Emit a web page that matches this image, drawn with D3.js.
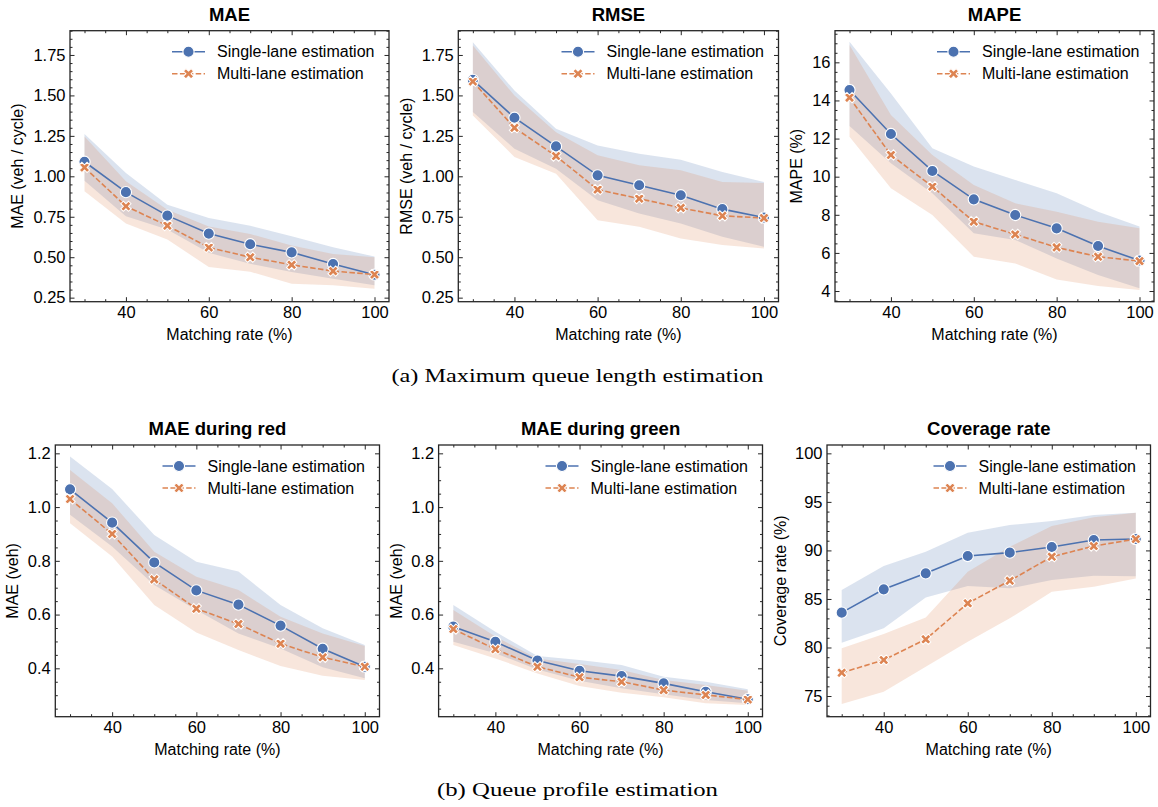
<!DOCTYPE html>
<html>
<head>
<meta charset="utf-8">
<script src="https://cdn.jsdelivr.net/npm/d3@7"></script>
<style>
  body { margin: 0; background: #fff; }
  svg { display: block; }
</style>
</head>
<body>
<svg id="fig" width="1158" height="807"></svg>
<script>
// ---- data ---------------------------------------------------------------
const matchingRate = [30, 40, 50, 60, 70, 80, 90, 100];
const seriesNames = ["Single-lane estimation", "Multi-lane estimation"];

// (a) maximum queue length: MAE
const maeSingle   = [1.090, 0.902, 0.757, 0.646, 0.580, 0.530, 0.458, 0.392];
const maeSingleLo = [0.973, 0.753, 0.671, 0.527, 0.459, 0.408, 0.367, 0.326];
const maeSingleHi = [1.262, 1.020, 0.825, 0.743, 0.695, 0.629, 0.561, 0.504];
const maeMulti    = [1.055, 0.815, 0.695, 0.560, 0.500, 0.453, 0.414, 0.393];
const maeMultiLo  = [0.907, 0.708, 0.609, 0.440, 0.410, 0.336, 0.326, 0.305];
const maeMultiHi  = [1.246, 0.970, 0.794, 0.690, 0.643, 0.572, 0.520, 0.500];

// (a) maximum queue length: RMSE
const rmseSingle   = [1.596, 1.362, 1.185, 1.006, 0.945, 0.883, 0.797, 0.745];
const rmseSingleLo = [1.397, 1.171, 1.047, 0.852, 0.770, 0.708, 0.626, 0.564];
const rmseSingleHi = [1.828, 1.530, 1.294, 1.191, 1.140, 1.103, 1.027, 0.965];
const rmseMulti    = [1.586, 1.300, 1.125, 0.918, 0.862, 0.805, 0.756, 0.742];
const rmseMultiLo  = [1.376, 1.119, 1.016, 0.729, 0.688, 0.616, 0.575, 0.554];
const rmseMultiHi  = [1.808, 1.499, 1.273, 1.130, 1.068, 1.037, 0.965, 0.959];

// (a) maximum queue length: MAPE (%)
const mapeSingle   = [14.55, 12.24, 10.30, 8.81, 7.99, 7.29, 6.36, 5.60];
const mapeSingleLo = [12.66, 10.70, 9.13, 7.03, 6.68, 5.71, 4.84, 4.14];
const mapeSingleHi = [17.08, 14.37, 11.49, 10.53, 9.83, 9.13, 8.16, 7.38];
const mapeMulti    = [14.15, 11.14, 9.48, 7.64, 6.97, 6.29, 5.80, 5.57];
const mapeMultiLo  = [12.10, 9.39, 7.99, 5.80, 5.45, 4.61, 4.26, 4.05];
const mapeMultiHi  = [16.91, 13.24, 11.14, 9.56, 8.60, 8.16, 7.64, 7.29];

// (b) queue profile: MAE during red
const redSingle   = [1.066, 0.942, 0.794, 0.690, 0.637, 0.559, 0.473, 0.406];
const redSingleLo = [0.971, 0.853, 0.710, 0.617, 0.530, 0.474, 0.404, 0.363];
const redSingleHi = [1.188, 1.067, 0.896, 0.797, 0.760, 0.636, 0.549, 0.487];
const redMulti    = [1.030, 0.900, 0.731, 0.622, 0.565, 0.492, 0.441, 0.406];
const redMultiLo  = [0.940, 0.816, 0.636, 0.533, 0.468, 0.409, 0.372, 0.357];
const redMultiHi  = [1.138, 1.014, 0.834, 0.741, 0.691, 0.592, 0.530, 0.483];

// (b) queue profile: MAE during green
const greenSingle   = [0.555, 0.499, 0.429, 0.391, 0.371, 0.344, 0.313, 0.285];
const greenSingleLo = [0.499, 0.456, 0.396, 0.354, 0.326, 0.304, 0.282, 0.270];
const greenSingleHi = [0.636, 0.536, 0.446, 0.431, 0.412, 0.369, 0.350, 0.322];
const greenMulti    = [0.546, 0.471, 0.406, 0.367, 0.350, 0.319, 0.301, 0.284];
const greenMultiLo  = [0.487, 0.437, 0.381, 0.334, 0.309, 0.292, 0.270, 0.264];
const greenMultiHi  = [0.617, 0.518, 0.437, 0.416, 0.394, 0.357, 0.338, 0.317];

// (b) queue profile: coverage rate (%)
const covSingle   = [83.59, 85.99, 87.64, 89.42, 89.77, 90.35, 91.07, 91.17];
const covSingleLo = [80.49, 81.97, 85.16, 86.33, 86.09, 86.95, 87.40, 87.35];
const covSingleHi = [85.92, 88.39, 89.87, 91.83, 92.62, 93.03, 93.65, 93.89];
const covMulti    = [77.40, 78.71, 80.84, 84.55, 86.88, 89.35, 90.45, 91.17];
const covMultiLo  = [74.18, 75.45, 78.02, 80.60, 83.00, 85.75, 86.26, 87.12];
const covMultiHi  = [79.91, 81.39, 83.10, 87.81, 90.38, 92.51, 93.41, 93.89];

// tick labels
const rateTicks     = [40, 60, 80, 100];
const queueErrTicks = [0.25, 0.50, 0.75, 1.00, 1.25, 1.50, 1.75];
const mapeTicks     = [4, 6, 8, 10, 12, 14, 16];
const profileTicks  = [0.4, 0.6, 0.8, 1.0, 1.2];
const coverageTicks = [75, 80, 85, 90, 95, 100];

const captionA = "(a) Maximum queue length estimation";
const captionB = "(b) Queue profile estimation";

// ---- styling / layout ---------------------------------------------------
const BLUE = "#4c72b0", ORANGE = "#dd8452", INK = "#262626";
const SANS = "'Liberation Sans', Arial, Helvetica, sans-serif";
const SERIF = "'Liberation Serif', 'Times New Roman', serif";
const TICK_FS = 16.5, LABEL_FS = 16, TITLE_FS = 18.5, LEGEND_FS = 16;

const panels = [
  { title: "MAE", ylabel: "MAE (veh / cycle)",
    s: [maeSingle, maeSingleLo, maeSingleHi], m: [maeMulti, maeMultiLo, maeMultiHi],
    box: { x0: 70, x1: 389, y0: 30.7, y1: 301.7, ylx: 17.3 },
    yDomain: [0.225, 1.9], yTicks: queueErrTicks, yMinor: 0.05, fmt: d3.format(".2f") },
  { title: "RMSE", ylabel: "RMSE (veh / cycle)",
    s: [rmseSingle, rmseSingleLo, rmseSingleHi], m: [rmseMulti, rmseMultiLo, rmseMultiHi],
    box: { x0: 458.3, x1: 778.5, y0: 30.7, y1: 301.7, ylx: 406.7 },
    yDomain: [0.225, 1.9], yTicks: queueErrTicks, yMinor: 0.05, fmt: d3.format(".2f") },
  { title: "MAPE", ylabel: "MAPE (%)",
    s: [mapeSingle, mapeSingleLo, mapeSingleHi], m: [mapeMulti, mapeMultiLo, mapeMultiHi],
    box: { x0: 835, x1: 1154, y0: 30.7, y1: 301.7, ylx: 796.7 },
    yDomain: [3.44, 17.66], yTicks: mapeTicks, yMinor: 0.5, fmt: d3.format("d") },
  { title: "MAE during red", ylabel: "MAE (veh)",
    s: [redSingle, redSingleLo, redSingleHi], m: [redMulti, redMultiLo, redMultiHi],
    box: { x0: 55.3, x1: 379.5, y0: 445, y1: 716.7, ylx: 12.7 },
    yDomain: [0.22, 1.231], yTicks: profileTicks, yMinor: 0.05, fmt: d3.format(".1f") },
  { title: "MAE during green", ylabel: "MAE (veh)",
    s: [greenSingle, greenSingleLo, greenSingleHi], m: [greenMulti, greenMultiLo, greenMultiHi],
    box: { x0: 438.6, x1: 762.5, y0: 445, y1: 716.7, ylx: 396.7 },
    yDomain: [0.22, 1.231], yTicks: profileTicks, yMinor: 0.05, fmt: d3.format(".1f") },
  { title: "Coverage rate", ylabel: "Coverage rate (%)",
    s: [covSingle, covSingleLo, covSingleHi], m: [covMulti, covMultiLo, covMultiHi],
    box: { x0: 827, x1: 1150.5, y0: 445, y1: 716.7, ylx: 780 },
    yDomain: [72.87, 100.86], yTicks: coverageTicks, yMinor: 1, fmt: d3.format("d") }
];

const svg = d3.select("#fig");
svg.append("rect").attr("width", 1158).attr("height", 807).attr("fill", "#fff");

const crossSym = d3.symbol(d3.symbolCross, 66);

function minorValues(domain, step, major) {
  const out = [];
  const start = Math.ceil(domain[0] / step - 1e-9);
  const end = Math.floor(domain[1] / step + 1e-9);
  for (let k = start; k <= end; k++) {
    const v = +(k * step).toFixed(6);
    if (!major.some(t => Math.abs(t - v) < 1e-9)) out.push(v);
  }
  return out;
}

function styleAxis(sel) {
  sel.select(".domain").remove();
  sel.selectAll(".tick line").attr("stroke", INK).attr("stroke-width", 1);
  sel.selectAll(".tick text").attr("fill", "#000")
    .attr("font-family", SANS).attr("font-size", TICK_FS);
  sel.attr("font-family", null).attr("font-size", null);
}

function drawMarker(sel, kind, x, y) {
  if (kind === 0) {
    sel.append("circle").attr("cx", x).attr("cy", y).attr("r", 5.6)
      .attr("fill", BLUE).attr("stroke", "#fff").attr("stroke-width", 1.1);
  } else {
    sel.append("path").attr("d", crossSym)
      .attr("transform", `translate(${x},${y}) rotate(45)`)
      .attr("fill", ORANGE).attr("stroke", "#fff").attr("stroke-width", 1);
  }
}

panels.forEach(p => {
  const b = p.box;
  const g = svg.append("g");
  const x = d3.scaleLinear().domain([26.5, 103.5]).range([b.x0, b.x1]);
  const y = d3.scaleLinear().domain(p.yDomain).range([b.y1, b.y0]);

  const series = [
    { vals: p.s, color: BLUE, dash: null, kind: 0 },
    { vals: p.m, color: ORANGE, dash: "5.5,2.4", kind: 1 }
  ];

  // uncertainty bands
  const area = d3.area()
    .x((d, i) => x(matchingRate[i]))
    .y0(d => y(d[0]))
    .y1(d => y(d[1]));
  series.forEach(s => {
    const pts = s.vals[1].map((lo, i) => [lo, s.vals[2][i]]);
    g.append("path").attr("d", area(pts))
      .attr("fill", s.color).attr("fill-opacity", 0.2).attr("stroke", "none");
  });

  // mean lines and markers
  const line = d3.line().x((d, i) => x(matchingRate[i])).y(d => y(d));
  series.forEach(s => {
    g.append("path").attr("d", line(s.vals[0]))
      .attr("fill", "none").attr("stroke", s.color).attr("stroke-width", 1.6)
      .attr("stroke-dasharray", s.dash);
    s.vals[0].forEach((v, i) => drawMarker(g, s.kind, x(matchingRate[i]), y(v)));
  });

  // axes: inward ticks on all four sides
  const xMinor = minorValues([26.5, 103.5], 5, rateTicks);
  const yMinor = minorValues(p.yDomain, p.yMinor, p.yTicks);

  const mk = (gen, scale, vals, len, labelled, fmt, pad) =>
    gen(scale).tickValues(vals).tickSizeInner(-len).tickSizeOuter(0)
      .tickPadding(pad).tickFormat(labelled ? fmt : () => "");

  g.append("g").attr("transform", `translate(0,${b.y1})`)
    .call(mk(d3.axisBottom, x, rateTicks, 4.5, true, d3.format("d"), 5)).call(styleAxis);
  g.append("g").attr("transform", `translate(0,${b.y1})`)
    .call(mk(d3.axisBottom, x, xMinor, 2.5, false)).call(styleAxis);
  g.append("g").attr("transform", `translate(0,${b.y0})`)
    .call(mk(d3.axisTop, x, rateTicks, 4.5, false)).call(styleAxis);
  g.append("g").attr("transform", `translate(0,${b.y0})`)
    .call(mk(d3.axisTop, x, xMinor, 2.5, false)).call(styleAxis);

  g.append("g").attr("transform", `translate(${b.x0},0)`)
    .call(mk(d3.axisLeft, y, p.yTicks, 4.5, true, p.fmt, 4.5)).call(styleAxis);
  g.append("g").attr("transform", `translate(${b.x0},0)`)
    .call(mk(d3.axisLeft, y, yMinor, 2.5, false)).call(styleAxis);
  g.append("g").attr("transform", `translate(${b.x1},0)`)
    .call(mk(d3.axisRight, y, p.yTicks, 4.5, false)).call(styleAxis);
  g.append("g").attr("transform", `translate(${b.x1},0)`)
    .call(mk(d3.axisRight, y, yMinor, 2.5, false)).call(styleAxis);

  // frame
  g.append("rect").attr("x", b.x0).attr("y", b.y0)
    .attr("width", b.x1 - b.x0).attr("height", b.y1 - b.y0)
    .attr("fill", "none").attr("stroke", INK).attr("stroke-width", 1.3);

  // title and axis labels
  const cx = (b.x0 + b.x1) / 2, cy = (b.y0 + b.y1) / 2;
  g.append("text").attr("x", cx).attr("y", b.y0 - 10)
    .attr("text-anchor", "middle").attr("font-family", SANS)
    .attr("font-weight", "bold").attr("font-size", TITLE_FS).attr("fill", "#000")
    .text(p.title);
  g.append("text").attr("x", cx).attr("y", b.y1 + 38)
    .attr("text-anchor", "middle").attr("font-family", SANS)
    .attr("font-size", LABEL_FS).attr("fill", "#000")
    .text("Matching rate (%)");
  g.append("text")
    .attr("transform", `translate(${b.ylx},${cy}) rotate(-90)`)
    .attr("dy", "0.35em").attr("text-anchor", "middle").attr("font-family", SANS)
    .attr("font-size", LABEL_FS).attr("fill", "#000")
    .text(p.ylabel);

  // legend (no frame), upper right
  const lg = g.append("g");
  series.forEach((s, k) => {
    const ly = b.y0 + 21 + k * 22;
    lg.append("line")
      .attr("x1", b.x1 - 217).attr("x2", b.x1 - 184)
      .attr("y1", ly).attr("y2", ly)
      .attr("stroke", s.color).attr("stroke-width", 1.6)
      .attr("stroke-dasharray", s.dash);
    drawMarker(lg, s.kind, b.x1 - 200.5, ly);
    lg.append("text").attr("x", b.x1 - 172).attr("y", ly)
      .attr("dy", "0.36em").attr("font-family", SANS)
      .attr("font-size", LEGEND_FS).attr("fill", "#000")
      .text(seriesNames[k]);
  });
});

// sub-figure captions
[[captionA, 382, 372], [captionB, 796, 281]].forEach(([txt, yy, len]) => {
  svg.append("text").attr("x", 577.5).attr("y", yy)
    .attr("text-anchor", "middle").attr("font-family", SERIF)
    .attr("font-size", 19).attr("fill", "#000")
    .attr("textLength", len).attr("lengthAdjust", "spacingAndGlyphs")
    .text(txt);
});
</script>
</body>
</html>
